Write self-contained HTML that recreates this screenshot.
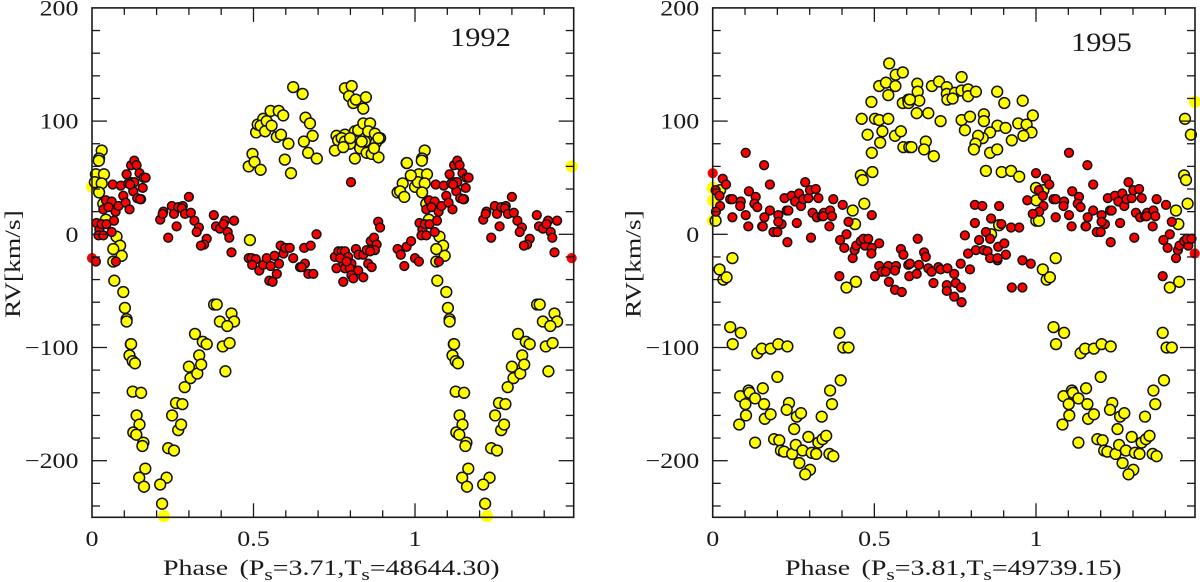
<!DOCTYPE html>
<html lang="en">
<head>
<meta charset="utf-8">
<title>RV phase curves 1992 and 1995</title>
<style>
html,body{margin:0;padding:0;background:#fff;width:1200px;height:582px;overflow:hidden}
svg{display:block;filter:blur(0.35px)}
text{font-family:"Liberation Serif",serif;fill:#1a1a1a}
</style>
</head>
<body>
<svg id="chart" xmlns="http://www.w3.org/2000/svg" width="1200" height="582" viewBox="0 0 1200 582"></svg>
<script>
const yTickValues = [-200, -100, 0, 100, 200];
const yTickLabels = ['\u2212200', '\u2212100', '0', '100', '200'];
const xTickValues = [0, 0.5, 1];
const xTickLabels = ['0', '0.5', '1'];
const yellow1992 = [[.097,-51],[.102,-65],[.107,-75],[.107,-77],[.120,-97],[.121,-97],[.116,-107],[.126,-112],[.133,-114],[.126,-139],[.152,-140],[.138,-160],[.147,-168],[.128,-175],[.137,-177],[.159,-184],[.156,-187],[.165,-207],[.146,-215],[.161,-223],[.231,-215],[.211,-221],[.217,-238],[.223,-249],[.236,-189],[.254,-191],[.248,-160],[.260,-149],[.280,-150],[.267,-173],[.276,-168],[.287,-135],[.300,-117],[.305,-127],[.326,-123],[.332,-107],[.338,-115],[.319,-88],[.343,-95],[.355,-97],[.378,-62],[.386,-62],[.396,-77],[.432,-70],[.440,-77],[.419,-81],[.405,-99],[.426,-96],[.413,-121],
[0,42],[.030,74],[.022,67],[.021,65],[.012,53],[.037,53],[.009,46],[.030,45],[.022,37],[.035,27],[.043,13],[.076,-2],[.087,-10],[.066,-13],[.092,-19],[.066,-24],[.069,-41],
[.489,-5],[.485,60],[.497,71],[.503,64],[.522,57],[.508,90],[.513,97],[.530,102],[.522,96],[.541,100],[.536,91],[.556,96],[.553,109],[.578,109],[.592,105],[.572,86],[.585,88],[.608,80],[.597,66],[.616,54],[.623,130],[.652,124],[.661,103],[.675,98],[.683,87],[.656,82],[.669,72],[.696,67],
[.783,129],[.804,131],[.796,122],[.809,116],[.817,119],[.848,121],[.840,111],[.757,87],[.783,88],[.762,83],[.773,85],[.783,82],[.799,80],[.752,74],[.778,77],[.814,91],[.824,92],[.840,98],[.861,98],[.855,91],[.845,82],[.830,76],[.814,67],[.850,72],[.866,71],[.887,68],[.881,86],[.892,85],[.879,81],[.876,89],[.887,85],[.873,76],[.799,85],[.835,82],
[.974,63],[.975,63],[.987,52],[.962,45],[.946,37],[.954,38],[.967,33]];
const red1992 = [[0,-21],[.012,-24],[.014,10],[.023,4],[.030,9],[.020,-1],[.035,-1],[.045,9],[.061,2],[.068,12],[.074,-24],[.035,22],[.043,30],[.061,29],[.051,24],[.073,20],[.082,25],[.064,44],[.089,43],[.097,34],[.104,28],[.116,22],[.107,53],[.112,45],[.121,61],[.131,65],[.138,61],[.147,54],[.123,46],[.128,38],[.159,50],[.166,50],[.157,41],[.140,32],[.152,31],[.149,31],[.131,46],[.118,44],
[.211,13],[.221,20],[.219,18],[.247,25],[.254,18],[.236,-3],[.262,7],[.267,24],[.281,25],[.278,23],[.288,18],[.300,33],[.306,19],[.317,12],[.331,6],[.324,2],[.355,-4],[.347,-9],[.337,-10],[.377,17],[.384,7],[.396,5],[.412,12],[.407,9],[.440,12],[.420,2],[.425,-3],[.432,-16],
[.485,-21],[.494,-21],[.507,-22],[.496,-27],[.518,-32],[.530,-27],[.541,-21],[.553,-28],[.565,-19],[.579,-26],[.572,-35],[.549,-41],[.559,-42],[.584,-10],[.593,-17],[.598,-12],[.612,-12],[.623,-21],[.644,-29],
[.657,-12],[.677,-10],[.695,0],[.659,-26],[.649,-29],[.670,-35],[.685,-35],[.802,46],
[.752,-20],[.763,-15],[.773,-15],[.783,-15],[.757,-30],[.778,-26],[.793,-20],[.803,-26],[.817,-13],[.825,-18],[.840,-18],[.850,-14],[.783,-30],[.798,-30],[.824,-32],[.803,-36],[.778,-42],[.809,-39],[.840,-38],[.855,-26],[.866,-29],[.863,-6],[.873,-3],[.881,-9],[.876,-14],[.861,-15],[.886,11],[.892,6],[.768,-21],[.788,-24],
[.946,-13],[.956,-18],[.967,-28],[.974,-11],[.988,-6]];
const yellow1995 = [[.054,-82],[.087,-87],[.062,-97],[.138,-105],[.152,-101],[.179,-101],[.203,-97],[.231,-99],[.200,-126],[.392,-87],[.404,-100],[.420,-100],[.396,-129],[.363,-138],[.369,-150],[.337,-161],
[.085,-143],[.111,-138],[.114,-140],[.155,-136],[.131,-145],[.101,-150],[.159,-150],[.103,-160],[.082,-168],[.161,-163],[.179,-159],[.131,-184],
[.236,-149],[.229,-155],[.260,-161],[.273,-158],[.252,-172],[.190,-181],[.206,-182],[.211,-191],[.221,-192],[.246,-194],[.257,-186],[.278,-191],[.296,-179],[.268,-202],[.301,-208],[.286,-212],[.306,-193],[.320,-194],[.327,-184],[.340,-181],[.351,-178],[.361,-194],[.373,-196],
[0,41],[.001,30],[.001,12],[.009,12],[.023,39],[.061,-21],[.021,-31],[.033,-40],[.043,-38],
[.461,102],[.479,88],[.492,72],[.494,55],[.458,52],[.464,48],[.469,27],[.433,21],[.440,9],[.414,-47],[.443,-42],[.491,117],[.515,131],[.536,134],[.546,151],[.565,131],[.566,141],[.588,143],[.543,123],[.502,102],[.515,101],[.543,102],[.525,91],[.518,81],[.564,87],[.582,91],[.590,77],[.608,77],[.588,116],[.605,119],[.606,116],
[.633,133],[.634,126],[.639,118],[.610,119],[.631,107],[.667,107],[.705,100],[.678,131],[.700,135],[.724,130],[.724,124],[.726,119],[.749,125],[.742,120],[.770,139],[.770,127],[.790,128],[.790,122],[.814,126],[.880,126],[.902,116],[.959,118],[.990,105],[.770,101],[.796,104],[.839,106],[.839,100],[.780,92],[.881,96],[.906,94],[.945,98],[.971,97],[.986,90],[.961,87],[.925,83],[.858,90],[.835,85],[.821,87],[.813,80],[.808,75],[.858,72],[.880,75],[.659,82],[.654,75],[.684,69],[.615,77],
[.845,56],[.894,55],[.923,56],[.948,51],[.886,8],[.861,0]];
const red1995 = [[0,54],[.031,49],[.041,44],[.009,39],[.021,34],[.023,25],[.010,20],[.054,31],[.061,31],[.061,15],[.087,29],[.085,25],[.112,38],[.133,33],[.129,27],[.138,24],[.102,17],[.110,7],[.102,72],[.159,61],[.177,44],[.177,21],[.160,15],[.153,7],[.155,7],[.188,2],[.200,2],[.203,17],[.213,9],[.203,11],[.231,-7],[.229,21],[.234,21],[.222,32],[.244,34],[.255,29],[.260,10],[.267,36],[.273,25],[.280,31],[.286,46],[.296,32],[.301,39],[.319,40],[.327,32],[.309,19],[.322,15],[.337,16],[.344,19],[.342,16],[.363,21],[.369,16],[.361,7],[.373,31],[.304,-3],[.402,26],[.420,11],[.414,0],[.394,-5],[.407,-12],[.433,-21],[.439,-14],[.444,-10],[.458,-6],[.471,-10],[.466,-4],[.481,-4],[.492,17],[.492,-12],[.491,-17],[.515,-8],[.392,-37],[.502,-37],[.515,-28],[.523,-33],[.543,-28],[.535,-33],[.567,-28],[.564,-32],[.545,-42],[.564,-49],[.582,-13],[.590,-18],[.605,-27],[.608,-37],[.585,-51],
[.634,-4],[.654,-16],[.659,-20],[.638,-27],[.610,-26],[.631,-35],[.683,-43],[.667,-30],[.677,-33],[.698,-29],[.705,-31],[.726,-30],[.747,-35],[.752,-43],[.724,-45],[.768,-47],[.724,-50],[.747,-55],[.770,-60],[.925,-47],[.958,-47],
[.767,-26],[.796,-31],[.790,-17],[.780,-1],[.814,-14],[.824,-5],[.838,-14],[.845,2],[.858,-4],[.850,-15],[.858,-21],[.881,-23],[.883,-11],[.902,-8],[.907,-18],[.881,-21],[.811,26],[.834,25],[.886,25],[.811,10],[.861,14],[.893,9],[.923,6],[.948,6],[.958,-23],[.984,-26],[.973,30],[.990,18]];

const NS = 'http://www.w3.org/2000/svg';
const svg = document.getElementById('chart');
const INK = '#1a1a1a';

function make(parent, tag, attrs) {
  const el = document.createElementNS(NS, tag);
  for (const k in attrs) el.setAttribute(k, attrs[k]);
  parent.appendChild(el);
  return el;
}

function line(parent, x1, y1, x2, y2, w) {
  const el = make(parent, 'line', {x1: x1, y1: y1, x2: x2, y2: y2, stroke: INK, 'stroke-width': w});
  
  
  return el;
}

function label(parent, str, x, y, anchor, size, sx) {
  const t = make(parent, 'text', {transform: 'translate(' + x + ',' + y + ') scale(' + sx + ',1)', 'text-anchor': anchor, 'font-size': size});
  t.textContent = str;
  return t;
}

function drawPanel(cfg) {
  const g = make(svg, 'g', {});
  
  
  const xs = v => cfg.left + v * cfg.unit;
  const ys = v => 234.3 - v * 1.132;
  const right = cfg.right, top = ys(200), bottom = ys(-250);

  const yellowGroup = make(g, 'g', {});
  
  
  const redGroup = make(g, 'g', {});
  
  

  function points(group, data, color, r, name) {
    data.forEach(d => {
      [d[0], d[0] + 1].forEach(ph => {
        if (ph > cfg.maxPhase) return;
        const bare = ph <= 0.002 || ph >= 1.483 || d[1] < -248;
        const c = make(group, 'circle', {
          cx: xs(ph).toFixed(1), cy: ys(d[1]).toFixed(1), r: bare ? r + 0.7 : r,
          fill: color, stroke: bare ? 'none' : '#111', 'stroke-width': 1.5
        });
        
        
      });
    });
  }
  points(yellowGroup, cfg.yellow, '#ffff00', 5.4, 'secondary-point');
  points(redGroup, cfg.red, '#ff0000', 4.4, 'primary-point');

  const axes = make(g, 'g', {});
  
  
  const frame = make(axes, 'rect', {x: cfg.left, y: top, width: right - cfg.left, height: bottom - top, fill: 'none', stroke: INK, 'stroke-width': 1.6});
  
  

  for (let i = 1; i * 0.1 < 1.49; i++) {
    const v = i / 10, len = i % 5 === 0 ? 14 : 7, x = xs(v);
    line(axes, x, bottom, x, bottom - len, 1.3);
    line(axes, x, top, x, top + len, 1.3);
  }
  for (let v = -240; v < 200; v += 20) {
    const len = v % 100 === 0 ? 15 : 8, y = ys(v);
    line(axes, cfg.left, y, cfg.left + len, y, 1.3);
    line(axes, right, y, right - len, y, 1.3);
  }

  yTickValues.forEach((v, i) => {
    const t = label(axes, yTickLabels[i], cfg.left - 13.5, ys(v) + 7.5, 'end', 22, 1.18);
    
    
  });
  xTickValues.forEach((v, i) => {
    const t = label(axes, xTickLabels[i], xs(v), 546, 'middle', 22, 1.18);
    
    
  });

  const yTitle = make(axes, 'text', {transform: 'translate(' + (cfg.left - 72) + ',318) rotate(-90) scale(1.25,1)', 'font-size': 22});
  yTitle.textContent = 'RV[km/s]';
  
  

  const xTitle = make(axes, 'text', {transform: 'translate(' + cfg.titleX + ',575) scale(1.27,1)', 'font-size': 22});
  
  
  const parts = [['Phase', 0, 0, 22], ['(P', 0, 9, 22], ['s', 5, 0, 17], [cfg.periodText + ',T', -5, 0, 22], ['s', 5, 0, 17], [cfg.epochText, -5, 0, 22]];
  parts.forEach(p => {
    const s = make(xTitle, 'tspan', {dy: p[1], dx: p[2], 'font-size': p[3]});
    s.textContent = p[0];
  });

  const yr = label(axes, String(cfg.year), cfg.yearX, cfg.yearY, 'start', 26, 1.17);
  
  
}

drawPanel({year: 1992, left: 92, right: 573.7, unit: 323, maxPhase: 1.487, yellow: yellow1992, red: red1992, titleX: 163, periodText: '=3.71', epochText: '=48644.30)', yearX: 450, yearY: 46});
drawPanel({year: 1995, left: 712.7, right: 1195, unit: 323.3, maxPhase: 1.4915, yellow: yellow1995, red: red1995, titleX: 785, periodText: '=3.81', epochText: '=49739.15)', yearX: 1071, yearY: 51});
</script>
</body>
</html>
